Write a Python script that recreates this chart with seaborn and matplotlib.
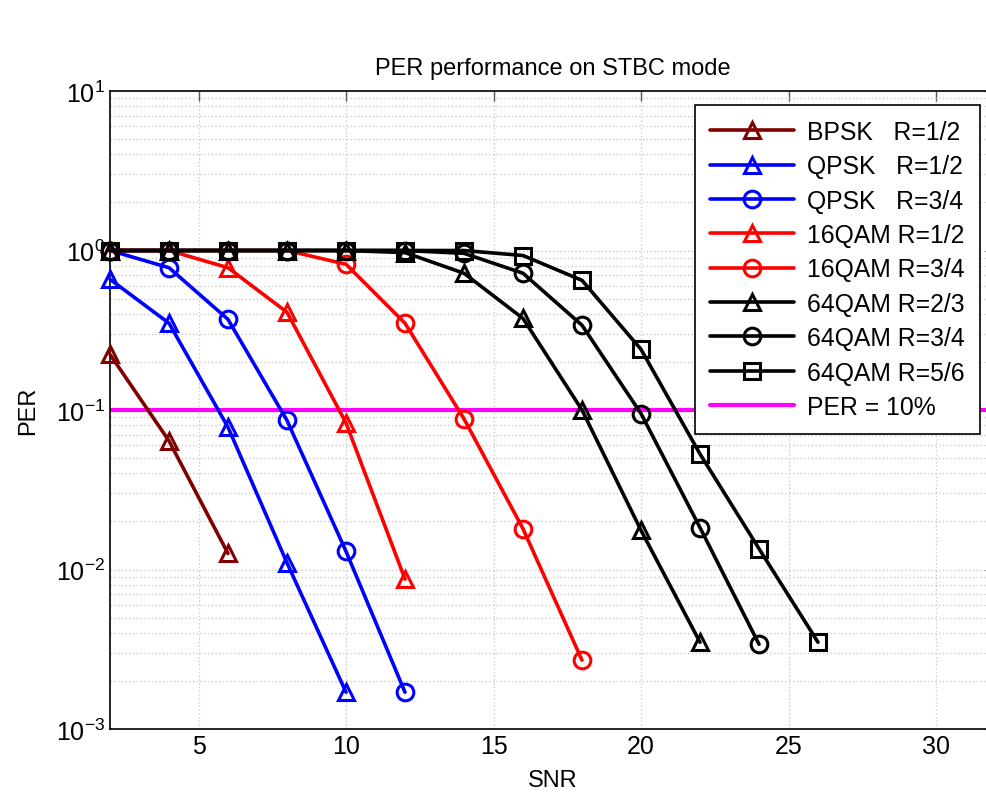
import numpy as np
import pandas as pd
import matplotlib
matplotlib.use("Agg")
import matplotlib.pyplot as plt
import seaborn as sns
from matplotlib.ticker import LogLocator, FixedLocator

snr = [2, 4, 6, 8, 10, 12, 14, 16, 18, 20, 22, 24, 26]

bpsk_12 = [0.223, 0.064, 0.0126]
qpsk_12 = [0.66, 0.35, 0.078, 0.011, 0.0017]
qpsk_34 = [1.0, 0.78, 0.37, 0.086, 0.013, 0.0017]
qam16_12 = [1.0, 1.0, 0.78, 0.41, 0.083, 0.0087]
qam16_34 = [1.0, 1.0, 1.0, 1.0, 0.82, 0.35, 0.088, 0.018, 0.0027]
qam64_23 = [1.0, 1.0, 1.0, 1.0, 1.0, 0.97, 0.72, 0.375, 0.10, 0.0176, 0.0035]
qam64_34 = [1.0, 1.0, 1.0, 1.0, 1.0, 1.0, 0.96, 0.72, 0.34, 0.095, 0.0183, 0.0034]
qam64_56 = [1.0, 1.0, 1.0, 1.0, 1.0, 1.0, 1.0, 0.93, 0.65, 0.24, 0.053, 0.0135, 0.0035]
per_threshold = 0.1

labels = ["BPSK   R=1/2", "QPSK   R=1/2", "QPSK   R=3/4", "16QAM R=1/2",
          "16QAM R=3/4", "64QAM R=2/3", "64QAM R=3/4", "64QAM R=5/6"]
series = [bpsk_12, qpsk_12, qpsk_34, qam16_12, qam16_34, qam64_23, qam64_34, qam64_56]
colors = ["#800000", "#0000ff", "#0000ff", "#ff0000", "#ff0000", "#000000", "#000000", "#000000"]
markers = ["^", "^", "o", "^", "o", "^", "o", "s"]

sns.set_style("white")
plt.rcParams["font.family"] = ["Liberation Sans", "DejaVu Sans"]
plt.rcParams["mathtext.fontset"] = "custom"
plt.rcParams["mathtext.rm"] = "Liberation Sans"
plt.rcParams["mathtext.it"] = "Liberation Sans"
plt.rcParams["text.color"] = "black"
plt.rcParams["axes.labelcolor"] = "black"
plt.rcParams["xtick.color"] = "black"
plt.rcParams["ytick.color"] = "black"

fig = plt.figure(figsize=(9.86, 8.03), dpi=100)
ax = fig.add_axes([110 / 986, 1 - 730 / 803, (995 - 110) / 986, (730 - 92) / 803])

for lab, vals, col, mk in zip(labels, series, colors, markers):
    df = pd.DataFrame({"SNR": snr[:len(vals)], "PER": vals})
    sns.lineplot(data=df, x="SNR", y="PER", ax=ax, color=col, marker=mk,
                 markersize=12 if mk != "s" else 11, markerfacecolor="none",
                 markeredgecolor=col, markeredgewidth=2.2, linewidth=2.6,
                 label=lab, clip_on=False, zorder=3)

ax.axhline(per_threshold, color="#ff00ff", linewidth=3, label="PER = 10%", zorder=2)

ax.set_yscale("log")
ax.set_xlim(2, 32)
ax.set_ylim(1e-3, 1e1)
ax.xaxis.set_major_locator(FixedLocator([5, 10, 15, 20, 25, 30]))
ax.yaxis.set_major_locator(LogLocator(base=10, numticks=10))
ax.yaxis.set_minor_locator(LogLocator(base=10, subs=np.arange(2, 10), numticks=20))

ax.grid(True, which="major", axis="x", linestyle=(0, (1, 2)), color="#c4c4c4", linewidth=0.9)
ax.grid(True, which="both", axis="y", linestyle=(0, (1, 2)), color="#c4c4c4", linewidth=0.9)

ax.tick_params(axis="both", which="both", direction="in", top=True, right=True,
               labelsize=18)
ax.tick_params(axis="both", which="major", length=7, width=1, color="#555555")
ax.tick_params(axis="y", which="minor", length=4, width=0.8, color="#555555")
for sp in ax.spines.values():
    sp.set_color("black")
    sp.set_linewidth(1.2)

ax.set_xlabel("SNR", fontsize=17, labelpad=8)
ax.set_ylabel("PER", fontsize=17, labelpad=12)
ax.set_title("PER performance on STBC mode", fontsize=17, pad=12)

leg = ax.legend(loc="upper right", bbox_to_anchor=(980 / 986, 1 - 106 / 803),
                bbox_transform=fig.transFigure, borderaxespad=0, fontsize=17.8,
                handlelength=3.4, labelspacing=0.42, frameon=True, fancybox=False,
                edgecolor="black", framealpha=1, borderpad=0.6, handletextpad=0.55)
leg.get_frame().set_linewidth(1.2)
leg.set_zorder(5)

fig.savefig("out.png", dpi=100)
